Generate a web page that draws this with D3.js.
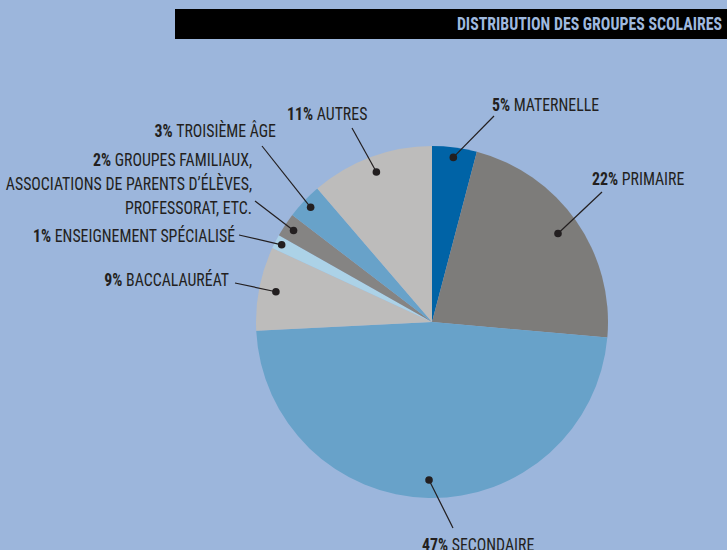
<!DOCTYPE html>
<html>
<head>
<meta charset="utf-8">
<script src="https://d3js.org/d3.v7.min.js"></script>
<style>
  html, body { margin: 0; padding: 0; background: #9cb6dc; }
  svg { display: block; font-family: "Roboto Condensed", "Roboto", sans-serif; font-stretch: condensed; }
</style>
</head>
<body>
<div id="chart"></div>
<script>
'use strict';

// categories, clockwise from 12 o'clock
const categories = ['MATERNELLE', 'PRIMAIRE', 'SECONDAIRE', 'BACCALAURÉAT',
  'ENSEIGNEMENT SPÉCIALISÉ', 'GROUPES FAMILIAUX, ASSOCIATIONS DE PARENTS D\u2019ÉLÈVES, PROFESSORAT, ETC.',
  'TROISIÈME ÂGE', 'AUTRES'];
// share of the pie as drawn (%)
const shares = [4.1, 22.3, 47.8, 7.7, 1.3, 2.2, 3.3, 11.3];
// share printed in the labels
const labelPct = ['5%', '22%', '47%', '9%', '1%', '2%', '3%', '11%'];
const title = 'DISTRIBUTION DES GROUPES SCOLAIRES';

const colors = ['#0063a6', '#7d7c7a', '#68a2c9', '#bdbcbb', '#acd2e7', '#858483', '#68a2c9', '#bdbcbb'];

// label placement: text anchor, lines, leader end, dot radius
const layout = [
  { x: 492, y: 111, anchor: 'start', lines: ['MATERNELLE'], lead: [494, 116], dr: 166 },
  { x: 592, y: 185, anchor: 'start', lines: ['PRIMAIRE'], lead: [602, 192], dr: 154 },
  { x: 422, y: 551, anchor: 'start', lines: ['SECONDAIRE'], lead: [453, 528], dr: 158 },
  { x: 229, y: 286, anchor: 'end', lines: ['BACCALAURÉAT'], lead: [235, 283], dr: 159 },
  { x: 235, y: 242, anchor: 'end', lines: ['ENSEIGNEMENT SPÉCIALISÉ'], lead: [239, 235], dr: 169 },
  { x: 252, y: 166, anchor: 'end', lines: ['GROUPES FAMILIAUX,', 'ASSOCIATIONS DE PARENTS D\u2019ÉLÈVES,', 'PROFESSORAT, ETC.'], lead: [255, 201], dr: 166 },
  { x: 276, y: 137, anchor: 'end', lines: ['TROISIÈME ÂGE'], lead: [262, 146], dr: 167 },
  { x: 287, y: 120, anchor: 'start', lines: ['AUTRES'], lead: [352, 128], dr: 160 }
];

const width = 727, height = 550;
const cx = 432, cy = 322, radius = 176;
const squeeze = 0.88; // horizontal text compression

const svg = d3.select('#chart').append('svg')
    .attr('width', width)
    .attr('height', height);

svg.append('rect')
    .attr('width', width).attr('height', height)
    .attr('fill', '#9cb6dc');

// title bar
svg.append('rect')
    .attr('x', 175).attr('y', 9)
    .attr('width', width - 175).attr('height', 30)
    .attr('fill', '#000');

svg.append('text')
    .attr('transform', `translate(722, 30) scale(${squeeze}, 1)`)
    .attr('text-anchor', 'end')
    .attr('fill', '#9fb9df')
    .attr('font-size', 18)
    .attr('font-weight', 'bold')
    .text(title);

const data = categories.map((c, i) => ({ name: c, value: shares[i], pct: labelPct[i], color: colors[i], lay: layout[i] }));

const pie = d3.pie().sort(null).value(d => d.value);
const arcs = pie(data);

const arc = d3.arc().innerRadius(0).outerRadius(radius);

const g = svg.append('g')
    .attr('transform', `translate(${cx}, ${cy})`);

g.selectAll('.slice')
    .data(arcs)
  .enter().append('path')
    .attr('class', 'slice')
    .attr('d', arc)
    .attr('fill', d => d.data.color);

// dot position on the mid angle at a given radius
const dotPos = d => {
  const a = (d.startAngle + d.endAngle) / 2;
  const r = d.data.lay.dr;
  return [cx + r * Math.sin(a), cy - r * Math.cos(a)];
};

svg.selectAll('.leader')
    .data(arcs)
  .enter().append('line')
    .attr('class', 'leader')
    .attr('x1', d => dotPos(d)[0])
    .attr('y1', d => dotPos(d)[1])
    .attr('x2', d => d.data.lay.lead[0])
    .attr('y2', d => d.data.lay.lead[1])
    .attr('stroke', '#231f20')
    .attr('stroke-width', 1.2);

svg.selectAll('.dot')
    .data(arcs)
  .enter().append('circle')
    .attr('class', 'dot')
    .attr('cx', d => dotPos(d)[0])
    .attr('cy', d => dotPos(d)[1])
    .attr('r', 3.8)
    .attr('fill', '#231f20');

const labels = svg.selectAll('.label')
    .data(arcs)
  .enter().append('text')
    .attr('class', 'label')
    .attr('transform', d => `translate(${d.data.lay.x}, ${d.data.lay.y}) scale(${squeeze}, 1)`)
    .attr('text-anchor', d => d.data.lay.anchor)
    .attr('font-size', 18)
    .attr('fill', '#231f20');

labels.each(function(d) {
  const t = d3.select(this);
  d.data.lay.lines.forEach((line, i) => {
    if (i === 0) {
      t.append('tspan').attr('font-weight', 'bold').text(d.data.pct + ' ');
      t.append('tspan').text(line);
    } else {
      t.append('tspan')
          .attr('x', 0)
          .attr('dy', 24)
          .text(line);
    }
  });
});
</script>
</body>
</html>
